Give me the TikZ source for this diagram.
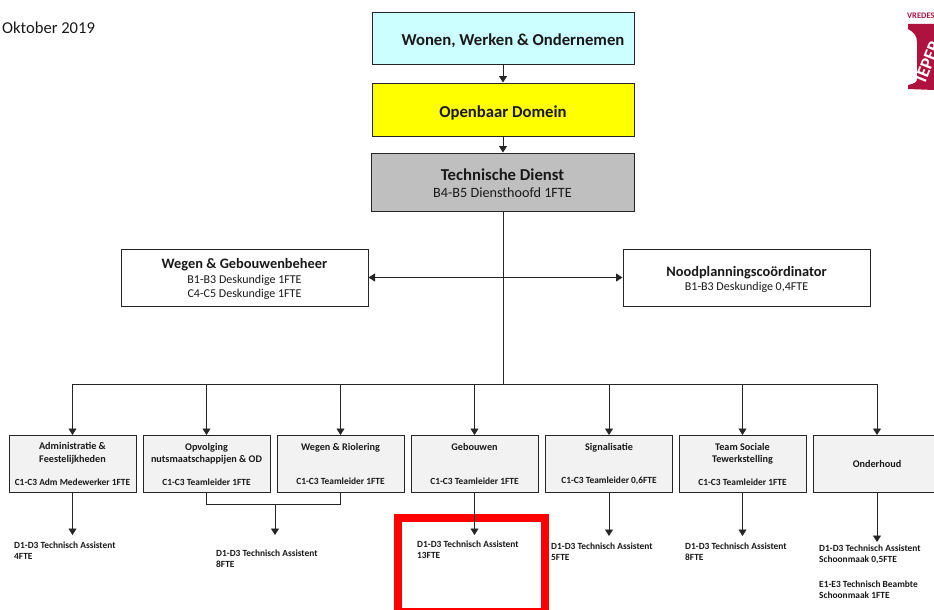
\documentclass[tikz,border=0pt]{standalone}
\usepackage{fontspec}
\setmainfont{Carlito}
\usetikzlibrary{arrows.meta}
\definecolor{logorood}{RGB}{176,18,63}
\definecolor{lijn}{RGB}{38,38,38}
\definecolor{lichtblauw}{RGB}{204,255,255}
\definecolor{geel}{RGB}{255,255,0}
\definecolor{grijs}{RGB}{191,191,191}
\definecolor{lichtgrijs}{RGB}{242,242,242}
\definecolor{tekst}{RGB}{25,25,25}
\definecolor{rood}{RGB}{255,0,0}
\tikzset{
  hoofdbox/.style={draw=lijn, line width=1pt, inner sep=0pt, align=center, minimum width=262pt, text=tekst},
  zijbox/.style={draw=lijn, line width=1pt, inner sep=0pt, align=center, minimum width=247pt, minimum height=57pt, fill=white, text=tekst, font=\fontsize{12}{14.5}\selectfont},
  dienstbox/.style={draw=lijn, line width=1pt, fill=lichtgrijs, inner sep=0pt, align=center, minimum width=127pt, minimum height=57pt, text=tekst, font=\bfseries\fontsize{10.2}{12.5}\selectfont},
  taak/.style={inner sep=0pt, align=left, anchor=north west, font=\bfseries\fontsize{9.4}{11.5}\selectfont, text=tekst},
  pijl/.style={draw=lijn, line width=0.9pt, -{Triangle[length=6.5pt,width=8pt]}},
  lijntje/.style={draw=lijn, line width=0.9pt}
}
\newcommand{\functie}[1]{{\fontsize{9.4}{11}\selectfont #1}}
\begin{document}
\begin{tikzpicture}[x=1pt,y=-1pt]
  \useasboundingbox (0,0) rectangle (934,610);
  \clip (0,0) rectangle (934,610);

  \node [inner sep=0pt, anchor=west, text=tekst, font=\fontsize{16.6}{18}\selectfont] (datum) at (2,27.5) {Oktober 2019};

  % logo
  \node [inner sep=0pt, anchor=west, text=logorood, font=\bfseries\fontsize{8.5}{10}\selectfont] (stad) at (907,16) {VREDES};
  \fill [logorood] (908,24) -- (934,24) -- (934,90) -- (908,89) -- (908,85) .. controls (914,84) and (917,82) .. (917,79)
    -- (917,42) .. controls (917,36) and (914,32) .. (908,29) -- cycle;
  \node [inner sep=0pt, anchor=west, rotate=68, text=white, font=\bfseries\fontsize{18}{20}\selectfont] (ieper) at (920,81) {IEPER};

  % top
  \node [hoofdbox, fill=lichtblauw, minimum height=52pt, font=\bfseries\fontsize{16.7}{18}\selectfont] (wonen) at (503,39) {\hspace*{20pt}\rule{0pt}{15pt}Wonen, Werken \& Ondernemen};
  \node [hoofdbox, fill=geel, minimum height=53pt, font=\bfseries\fontsize{16.7}{18}\selectfont] (domein) at (503,109.5) {\rule{0pt}{18pt}Openbaar Domein};
  \node [hoofdbox, fill=grijs, minimum width=263pt, minimum height=58pt, font=\fontsize{14.2}{17}\selectfont] (dienst) at (502.5,182) {\rule{0pt}{14pt}{\bfseries\fontsize{16.7}{18}\selectfont Technische Dienst}\\B4-B5 Diensthoofd 1FTE};

  \node [zijbox] (beheer) at (244.5,277.5) {\rule{0pt}{14pt}{\bfseries\fontsize{14.4}{16}\selectfont Wegen \& Gebouwenbeheer}\\B1-B3 Deskundige 1FTE\\C4-C5 Deskundige 1FTE};
  \node [zijbox] (nood) at (746.5,277.5) {\rule{0pt}{14pt}{\bfseries\fontsize{14.4}{16}\selectfont Noodplanningscoördinator}\\B1-B3 Deskundige 0,4FTE};

  % diensten
  \node [dienstbox] (admin) at (72.5,464) {Administratie \&\\Feestelijkheden\\[11pt]\functie{C1-C3 Adm Medewerker 1FTE}};
  \node [dienstbox] (opvolging) at (206.5,464) {Opvolging\\nutsmaatschappijen \& OD\\[10pt]\functie{C1-C3 Teamleider 1FTE}};
  \node [dienstbox] (riolering) at (340.5,464) {Wegen \& Riolering\\[21pt]\functie{C1-C3 Teamleider 1FTE}};
  \node [dienstbox] (gebouwen) at (474.5,464) {Gebouwen\\[21pt]\functie{C1-C3 Teamleider 1FTE}};
  \node [dienstbox] (signalisatie) at (609,464) {Signalisatie\\[21pt]\functie{C1-C3 Teamleider 0,6FTE}};
  \node [dienstbox] (sociaal) at (742.5,464) {Team Sociale\\Tewerkstelling\\[10pt]\functie{C1-C3 Teamleider 1FTE}};
  \node [dienstbox, minimum width=128pt] (onderhoud) at (877,464) {Onderhoud};

  % taken
  \node [taak] (taak1) at (14,541.5) {D1-D3 Technisch Assistent\\4FTE};
  \node [taak] (taak2) at (216,549.5) {D1-D3 Technisch Assistent\\8FTE};
  \node [taak] (taak3) at (417,540.5) {D1-D3 Technisch Assistent\\13FTE};
  \node [taak] (taak4) at (551,542.5) {D1-D3 Technisch Assistent\\5FTE};
  \node [taak] (taak5) at (685,542.5) {D1-D3 Technisch Assistent\\8FTE};
  \node [taak] (taak6) at (819,544.5) {D1-D3 Technisch Assistent\\Schoonmaak 0,5FTE\\[13pt]E1-E3 Technisch Beambte\\Schoonmaak 1FTE};

  \draw [rood, line width=8pt] (398,518) rectangle (545,612);

  % verbindingen
  \coordinate (bus) at (503,384);
  \coordinate (samen) at (275,504.5);
  \coordinate (eind1) at (72.5,535);
  \coordinate (eind2) at (275,535);
  \coordinate (eind3) at (474.5,535);
  \coordinate (eind4) at (609,536);
  \coordinate (eind5) at (742.5,536);
  \coordinate (eind6) at (877,542);

  \draw [pijl] (wonen) -- (domein);
  \draw [pijl] (domein) -- (domein |- dienst.north);
  \draw [lijntje] (bus |- dienst.south) -- (bus);
  \draw [pijl, {Triangle[length=6.5pt,width=8pt]}-{Triangle[length=6.5pt,width=8pt]}] (beheer) -- (nood);
  \draw [lijntje] (admin.north |- bus) -- (onderhoud.north |- bus);
  \draw [pijl] (admin.north |- bus) -- (admin);
  \draw [pijl] (opvolging.north |- bus) -- (opvolging);
  \draw [pijl] (riolering.north |- bus) -- (riolering);
  \draw [pijl] (gebouwen.north |- bus) -- (gebouwen);
  \draw [pijl] (signalisatie.north |- bus) -- (signalisatie);
  \draw [pijl] (sociaal.north |- bus) -- (sociaal);
  \draw [pijl] (onderhoud.north |- bus) -- (onderhoud);

  \draw [pijl] (admin) -- (eind1);
  \draw [lijntje] (opvolging) |- (samen) -| (riolering);
  \draw [pijl] (samen) -- (eind2);
  \draw [pijl] (gebouwen) -- (eind3);
  \draw [pijl] (signalisatie) -- (eind4);
  \draw [pijl] (sociaal) -- (eind5);
  \draw [pijl] (onderhoud) -- (eind6);
\end{tikzpicture}
\end{document}
